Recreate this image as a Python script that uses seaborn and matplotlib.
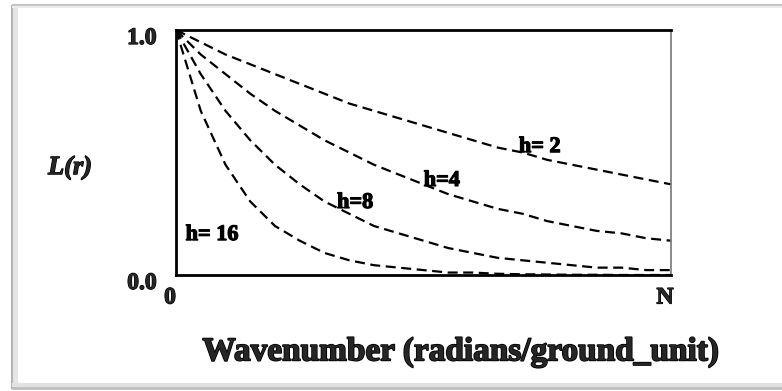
import matplotlib
matplotlib.use("Agg")
import matplotlib.pyplot as plt
import matplotlib.transforms as mtransforms
import matplotlib.patheffects as pe
from matplotlib.lines import Line2D
import seaborn as sns
import pandas as pd

# Normalised wavenumber (0 .. Nyquist) and the filter response L(r) for each h
wavenumber = [0.00, 0.05, 0.10, 0.15, 0.20, 0.25, 0.30, 0.35, 0.40, 0.45, 0.50,
              0.55, 0.60, 0.65, 0.70, 0.75, 0.80, 0.85, 0.90, 0.95, 1.00]
response_h2 = [1.00, 0.95, 0.90, 0.86, 0.82, 0.78, 0.74, 0.70, 0.67, 0.64, 0.61,
               0.58, 0.55, 0.52, 0.50, 0.47, 0.45, 0.43, 0.41, 0.39, 0.37]
response_h4 = [1.00, 0.90, 0.82, 0.74, 0.67, 0.61, 0.55, 0.50, 0.45, 0.41, 0.37,
               0.33, 0.30, 0.27, 0.25, 0.22, 0.20, 0.18, 0.17, 0.15, 0.14]
response_h8 = [1.00, 0.82, 0.67, 0.55, 0.45, 0.37, 0.30, 0.25, 0.20, 0.17, 0.14,
               0.11, 0.09, 0.07, 0.06, 0.05, 0.04, 0.03, 0.03, 0.02, 0.02]
response_h16 = [1.00, 0.67, 0.45, 0.30, 0.20, 0.14, 0.09, 0.06, 0.04, 0.03, 0.02,
                0.01, 0.01, 0.005, 0.003, 0.002, 0.001, 0.001, 0.0, 0.0, 0.0]

h_values = ["2", "4", "8", "16"]
responses = [response_h2, response_h4, response_h8, response_h16]

# Curve labels and where they sit (data coordinates)
curve_labels = ["h= 2", "h=4", "h=8", "h= 16"]
label_pos = [(0.735, 0.522), (0.537, 0.384), (0.362, 0.294), (0.073, 0.163)]

y_ticks = [0.0, 1.0]
y_tick_labels = ["0.0", "1.0"]
x_ticks = [0.0, 1.0]
x_tick_labels = ["0", "N"]

rows = []
for h, resp in zip(h_values, responses):
    for x, y in zip(wavenumber, resp):
        rows.append({"wavenumber": x, "L": y, "h": h})
df = pd.DataFrame(rows)

sns.set_theme(style="white")
plt.rcParams["font.family"] = ["Liberation Serif", "DejaVu Serif"]

fig = plt.figure(figsize=(7.82, 3.91), dpi=100)
fig.patch.set_facecolor("white")
W, H = 782, 391

ax = fig.add_axes([176 / W, 1 - 275 / H, 495 / W, 245 / H])

for h in h_values:
    sub = df[df["h"] == h]
    sns.lineplot(data=sub, x="wavenumber", y="L", ax=ax, color="black",
                 linewidth=1.6, linestyle=(0, (4.5, 2.5)), legend=False)

ax.set_xlim(0, 1)
ax.set_ylim(0, 1)
ax.set_xlabel("")
ax.set_ylabel("")

for spine in ["top", "left", "bottom"]:
    ax.spines[spine].set_color("black")
    ax.spines[spine].set_linewidth(2.0)
ax.spines["right"].set_color("#777777")
ax.spines["right"].set_linewidth(1.2)

heavy = [pe.withStroke(linewidth=0.9, foreground="black")]

ax.set_yticks(y_ticks)
ax.set_yticklabels(y_tick_labels, fontsize=17, fontweight="bold")
ax.set_xticks(x_ticks)
ax.set_xticklabels(x_tick_labels, fontsize=17, fontweight="bold")
ax.tick_params(axis="y", length=0, pad=14)
ax.tick_params(axis="x", length=0, pad=9)

down = mtransforms.ScaledTranslation(0, -6 / 100, fig.dpi_scale_trans)
for lab in ax.get_yticklabels():
    lab.set_transform(lab.get_transform() + down)
    lab.set_path_effects(heavy)
left = mtransforms.ScaledTranslation(-6 / 100, 0, fig.dpi_scale_trans)
for lab in ax.get_xticklabels():
    lab.set_transform(lab.get_transform() + left)
    lab.set_path_effects(heavy)

for text, (tx, ty) in zip(curve_labels, label_pos):
    ax.text(tx, ty, text, ha="center", va="center", fontsize=16,
            fontweight="bold", color="black", path_effects=heavy)

# Axis titles
fig.text(70 / W, 1 - 168 / H, "L(r)", ha="center", va="center",
         fontsize=19, fontweight="bold", fontstyle="italic", path_effects=heavy)
fig.text(461 / W, 1 - 352 / H, "Wavenumber (radians/ground_unit)",
         ha="center", va="center", fontsize=24, fontweight="bold",
         path_effects=[pe.withStroke(linewidth=1.2, foreground="black")])

# Surrounding panel frame with a soft shadow
def px_line(xs, ys, color, lw):
    fig.add_artist(Line2D([x / W for x in xs], [1 - y / H for y in ys],
                          color=color, linewidth=lw, transform=fig.transFigure,
                          solid_capstyle="butt"))

px_line([14, 14], [6, 389], "#e6e6e6", 5)
px_line([12, 12], [5, 389], "#b5b5b5", 1.5)
px_line([12, 782], [5, 5], "#c4c4c4", 1.5)
px_line([12, 782], [7, 7], "#ececec", 1.5)
px_line([12, 782], [385, 385], "#e2e2e2", 3)
px_line([12, 782], [388, 388], "#bdbdbd", 2)

fig.savefig("out.png", dpi=100, facecolor="white")
